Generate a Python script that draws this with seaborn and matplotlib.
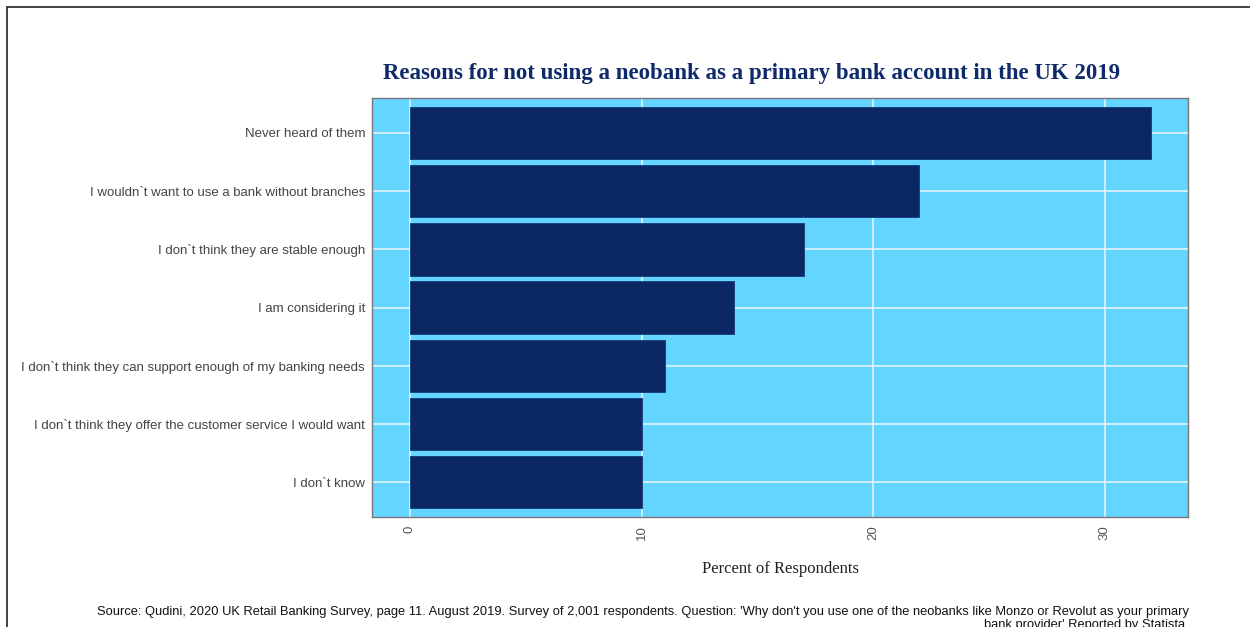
import matplotlib
matplotlib.use("Agg")
import matplotlib.pyplot as plt
import seaborn as sns
import pandas as pd
from matplotlib.lines import Line2D

# data
reasons = [
    "Never heard of them",
    "I wouldn`t want to use a bank without branches",
    "I don`t think they are stable enough",
    "I am considering it",
    "I don`t think they can support enough of my banking needs",
    "I don`t think they offer the customer service I would want",
    "I don`t know",
]
percent = [32, 22, 17, 14, 11, 10, 10]
x_ticks = [0, 10, 20, 30]

title = "Reasons for not using a neobank as a primary bank account in the UK 2019"
x_label = "Percent of Respondents"
source = ("Source: Qudini, 2020 UK Retail Banking Survey, page 11. August 2019. Survey of 2,001 respondents. "
          "Question: 'Why don't you use one of the neobanks like Monzo or Revolut as your primary\n"
          "bank provider' Reported by Statista.")

BG = "#63d5ff"
BAR = "#0b2865"
NAVY = "#0e2a6b"

df = pd.DataFrame({"reason": reasons, "percent": percent})

sns.set_theme(style="white")
plt.rcParams["font.family"] = ["Liberation Sans", "DejaVu Sans"]

fig = plt.figure(figsize=(12.5, 6.27), dpi=100)
ax = fig.add_axes([0.2976, 0.1754, 0.6528, 0.6683])
ax.set_facecolor(BG)

sns.barplot(data=df, x="percent", y="reason", orient="h", color=BAR,
            width=0.9, saturation=1, edgecolor="#123a7a", linewidth=0.6,
            ax=ax, zorder=3)

ax.set_xlim(-1.64, 33.6)
ax.set_ylim(6.6, -0.6)
ax.set_xticks(x_ticks)
ax.set_xticklabels([str(t) for t in x_ticks], rotation=90, color="#555555", fontsize=9.5)
ax.tick_params(axis="y", labelcolor="#444444", labelsize=9.5, length=0, pad=5)
ax.tick_params(axis="x", length=0, pad=6)
ax.grid(True, color="#eef6fb", linewidth=1.1, zorder=1)
ax.set_axisbelow(True)
for s in ax.spines.values():
    s.set_color("#777777")
    s.set_linewidth(1)

ax.set_ylabel("")
ax.set_xlabel(x_label, family="Liberation Serif", fontsize=12, color="#222222", labelpad=15)

fig.text(0.601, 0.882, title, ha="center", va="center", family="Liberation Serif",
         fontweight="bold", fontsize=16.5, color=NAVY)

fig.text(0.951, 0.034, source, ha="right", va="top", family="Liberation Sans",
         fontsize=9.3, color="#111111", linespacing=1.15)

# outer frame lines (top and left)
fig.add_artist(Line2D([0.0056, 1.0], [0.9888, 0.9888], transform=fig.transFigure, color="#333333", lw=1.3))
fig.add_artist(Line2D([0.0056, 0.0056], [0.0, 0.9888], transform=fig.transFigure, color="#333333", lw=1.3))

plt.savefig("out.png", dpi=100)
